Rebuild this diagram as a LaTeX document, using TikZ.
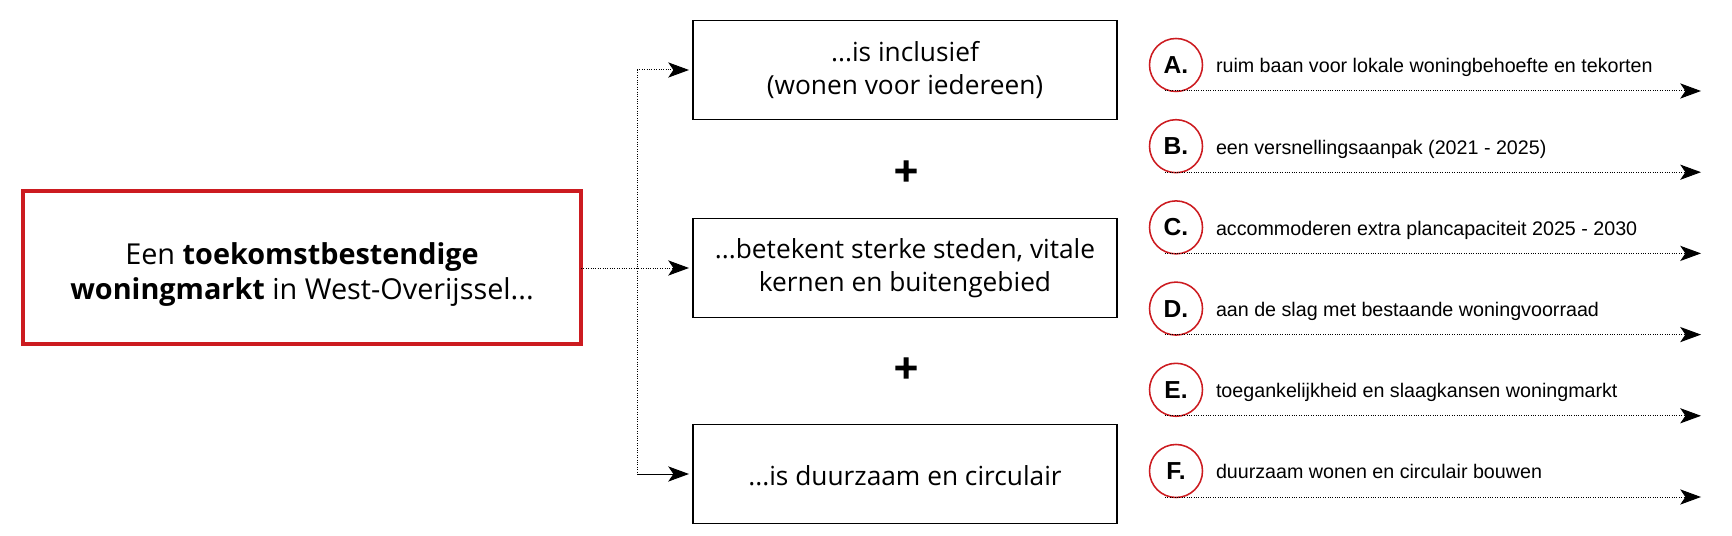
\documentclass[tikz,border=0pt]{standalone}
\usepackage{fontspec}
\setmainfont{Open Sans}
\newfontfamily\listfont{Liberation Sans}
\newfontfamily\plusfont{DejaVu Sans}[BoldFeatures={FakeBold=4}]
\usetikzlibrary{arrows.meta}
\definecolor{markred}{RGB}{204,27,32}

\begin{document}
\begin{tikzpicture}[
    every node/.style={
        inner sep=0pt,
        outer sep=0pt,
    },
    mainbox/.style={
        draw=markred,rectangle,
        line width=2.85pt,
        minimum width=13.95cm,
        minimum height=3.825cm,
        align=center,
        font=\fontsize{20.5}{25}\selectfont,
    },
    topicbox/.style={
        draw=black,rectangle,
        line width=1.1pt,
        minimum width=10.6cm,
        minimum height=2.475cm,
        align=center,
        font=\fontsize{18.7}{23.5}\selectfont,
    },
    plussign/.style={
        font=\plusfont\bfseries\fontsize{22.7}{22.7}\selectfont,
    },
    lettercircle/.style={
        draw=markred,circle,
        line width=1.1pt,
        minimum size=1.325cm,
        font=\listfont\bfseries\fontsize{17.5}{17.5}\selectfont,
    },
    itemtext/.style={
        anchor=base west,
        font=\listfont\fontsize{14}{14}\selectfont,
    },
    link/.style={
        line width=0.7pt,
        densely dotted,
    },
    linkhead/.style={
        -{Stealth[length=0.52cm,width=0.38cm,inset=0.13cm]},
        shorten >=0.1cm,
    },
]
    \useasboundingbox (0,0) rectangle (43.3,13.4);

    % ~~~ left box ~~~~~~~~~~~~~~~~~~~~~~~~~~~~~~~~~~~~~~~~~~~~~~
    \node[mainbox] (market) at (7.55,6.7)
        {\rule{0pt}{25pt}Een \textbf{toekomstbestendige}\\\textbf{woningmarkt} in West-Overijssel...};

    % ~~~ three middle boxes ~~~~~~~~~~~~~~~~~~~~~~~~~~~~~~~~~~~~~
    \node[topicbox] (inclusive) at (22.625,11.65) {...is inclusief\\(wonen voor iedereen)};
    \node[topicbox] (cities)    at (22.625,6.7)   {...betekent sterke steden, vitale\\kernen en buitengebied};
    \node[topicbox] (circular)  at (22.625,1.55)  {\rule{0pt}{17pt}...is duurzaam en circulair};
    \node[plussign] (plusa) at (22.65,9.125) {+};
    \node[plussign] (plusb) at (22.65,4.2)   {+};

    % ~~~ connectors from the left box ~~~~~~~~~~~~~~~~~~~~~~~~~~~
    \coordinate (split) at (15.925,6.7);
    \draw[link,linkhead] (market) -- (cities);
    \draw[link] (split |- inclusive.west) -- (split |- circular.west);
    \draw[link,linkhead] (split |- inclusive.west) -- (inclusive);
    \draw[line width=0.7pt,linkhead] (split |- circular.west) -- (circular);

    % ~~~ list on the right ~~~~~~~~~~~~~~~~~~~~~~~~~~~~~~~~~~~~~~
    \foreach \l/\t [count=\i] in {%
        A./ruim baan voor lokale woningbehoefte en tekorten,
        B./een versnellingsaanpak (2021 - 2025),
        C./accommoderen extra plancapaciteit 2025 - 2030,
        D./aan de slag met bestaande woningvoorraad,
        E./toegankelijkheid en slaagkansen woningmarkt,
        F./duurzaam wonen en circulair bouwen%
    }{
        \pgfmathsetmacro\y{11.775-2.03*(\i-1)}
        \node[lettercircle] (letter\i) at (29.4,\y) {\l};
        \node[itemtext] (item\i) at (30.4,\y-0.2) {\t};
        \coordinate (from\i) at (29.125,\y-0.65);
        \coordinate (to\i) at (42.525,\y-0.65);
        \draw[link,linkhead,shorten >=0pt] (from\i) -- (to\i);
    }
\end{tikzpicture}
\end{document}
